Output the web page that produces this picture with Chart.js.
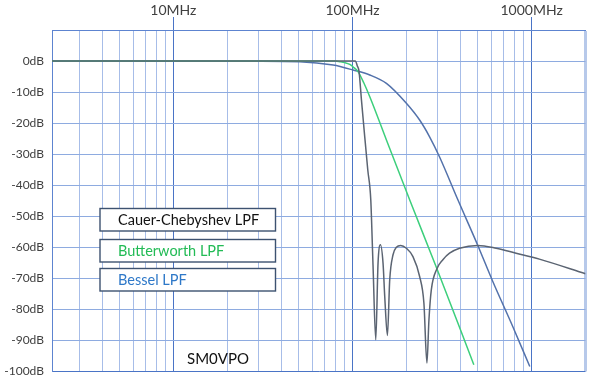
<!DOCTYPE html>
<html>
<head>
<meta charset="utf-8">
<script src="https://cdn.jsdelivr.net/npm/chart.js@4/dist/chart.umd.min.js"></script>
<style>
html,body{margin:0;padding:0;background:#fff;}
#wrap{width:591px;height:378px;position:relative;}
</style>
</head>
<body>
<div id="wrap"><canvas id="c" width="591" height="378"></canvas></div>
<script>
// ---- data ----
const seriesNames = ['Cauer-Chebyshev LPF', 'Butterworth LPF', 'Bessel LPF'];

const cauerFreqMHz = [2.1, 20, 60, 100, 103.9, 106.3, 108.8, 112.2, 117.1, 121.7, 126.5, 130.2, 134.9, 138.9, 143.2, 148.1, 151.4, 156.7, 161.4, 168.4, 175.9, 185.8, 199.9, 217.6, 237.1, 250.5, 260.4, 267.2, 275.5, 296.1, 319.7, 348.3, 396.1, 500.9, 634.3, 819.6, 1105, 2000];
const cauerDb      = [0, 0, 0, 0, 0, -1.5, -3.4, -12.5, -24.5, -35, -44.7, -65.7, -89.8, -65.1, -59.2, -65.1, -75.9, -88.4, -70.5, -62.4, -60.0, -59.4, -60.3, -63.0, -69.4, -78.0, -97.3, -83.4, -73.7, -66.9, -64.0, -61.9, -60.3, -59.4, -60.3, -61.9, -63.8, -68.5];

const butterFreqMHz = [2.1, 50, 80, 85, 90.6, 96.6, 101.7, 107.4, 115.6, 124.9, 154.7, 208.5, 296.1, 475.9];
const butterDb      = [0, 0, 0, -0.2, -0.5, -1.1, -2.1, -3.4, -7.0, -11.5, -25.4, -44.7, -66.9, -97.8];

const besselFreqMHz = [2.1, 30, 50.9, 78, 100.8, 124.9, 154.7, 199.9, 237.1, 269.5, 306.4, 387.6, 500.9, 607.3, 784.8, 977.2];
const besselDb      = [0, -0.05, -0.2, -1.3, -2.9, -4.5, -7.2, -13.6, -19.0, -24.4, -30.9, -44.7, -59.4, -71.0, -85.5, -98.4];

const xMajorTicks = [10, 100, 1000];
const xMinorGrid  = [3, 4, 5, 6, 7, 8, 9, 20, 30, 40, 50, 60, 70, 80, 90, 200, 300, 400, 500, 600, 700, 800, 900];
const xEdgeTick   = 2000;
const yTicks      = [-100, -90, -80, -70, -60, -50, -40, -30, -20, -10, 0, 10];
const footnote    = 'SM0VPO';

// ---- styling ----
const FONT = 'Lato, "Open Sans", sans-serif';
const lineColors = ['#5b6472', '#3dcf7c', '#5372ab'];
const legendTextColors = ['#111111', '#22bb55', '#2e78c8'];

function pts(fx, fy) { return fx.map((f, i) => ({x: f, y: fy[i]})); }

const allXTicks = [...xMinorGrid, ...xMajorTicks, xEdgeTick].sort((a, b) => a - b);

const boxPlugin = {
  id: 'boxes',
  afterDraw(chart) {
    const ctx = chart.ctx;
    const tops = [208.5, 239.5, 268.5];
    ctx.save();
    chart.data.datasets.forEach((ds, i) => {
      ctx.fillStyle = '#ffffff';
      ctx.fillRect(100, tops[i], 175.5, 22.5);
      ctx.lineWidth = 1.4;
      ctx.strokeStyle = '#3d5270';
      ctx.strokeRect(100, tops[i], 175.5, 22.5);
      ctx.fillStyle = legendTextColors[i];
      ctx.font = '14.5px ' + FONT;
      ctx.textBaseline = 'middle';
      ctx.textAlign = 'left';
      ctx.fillText(ds.label, 118, tops[i] + 11.5);
    });
    ctx.fillStyle = '#111111';
    ctx.font = '15px ' + FONT;
    ctx.textBaseline = 'middle';
    ctx.textAlign = 'left';
    ctx.fillText(footnote, 187, 359.5);
    ctx.restore();
  }
};

new Chart(document.getElementById('c'), {
  type: 'line',
  data: {
    datasets: [
      {label: seriesNames[0], data: pts(cauerFreqMHz, cauerDb), borderColor: lineColors[0]},
      {label: seriesNames[1], data: pts(butterFreqMHz, butterDb), borderColor: lineColors[1]},
      {label: seriesNames[2], data: pts(besselFreqMHz, besselDb), borderColor: lineColors[2]}
    ]
  },
  options: {
    responsive: false,
    animation: false,
    events: [],
    layout: {padding: {left: 0, right: 5.5, top: 0, bottom: 6.5}},
    elements: {
      point: {radius: 0},
      line: {borderWidth: 1.5, cubicInterpolationMode: 'monotone', fill: false}
    },
    plugins: {legend: {display: false}, tooltip: {enabled: false}, title: {display: false}},
    scales: {
      x: {
        type: 'logarithmic',
        position: 'top',
        min: 2.1,
        max: 2000,
        afterBuildTicks: (s) => { s.ticks = allXTicks.map(v => ({value: v})); },
        afterFit: (s) => { s.height = 30; s.paddingLeft = 0; s.paddingRight = 0; },
        ticks: {
          autoSkip: false, maxRotation: 0, padding: -2,
          color: '#404040',
          font: {family: FONT, size: 14},
          callback: (v) => xMajorTicks.includes(v) ? v + 'MHz' : ''
        },
        grid: {
          drawTicks: true,
          tickLength: 13,
          color: (c) => {
            const v = c.tick && c.tick.value;
            if (xMajorTicks.includes(v)) return '#4a74c6';
            if (v === xEdgeTick) return '#b7c9ea';
            return '#a7bde8';
          },
          lineWidth: (c) => (c.tick && c.tick.value === xEdgeTick) ? 3 : 1,
          tickColor: (c) => xMajorTicks.includes(c.tick && c.tick.value) ? '#4a74c6' : 'rgba(0,0,0,0)'
        },
        border: {display: true, color: '#5d84d0', width: 1}
      },
      y: {
        type: 'linear',
        min: -100,
        max: 10,
        afterBuildTicks: (s) => { s.ticks = yTicks.map(v => ({value: v})); },
        afterFit: (s) => { s.width = 52; s.paddingTop = 0; s.paddingBottom = 0; },
        ticks: {
          padding: 8,
          color: '#404040',
          font: {family: FONT, size: 12},
          callback: (v) => v === 10 ? '' : v + 'dB'
        },
        grid: {
          drawTicks: false,
          color: (c) => (c.tick && c.tick.value === -100) ? '#4a74c6' : '#8eabe0',
          lineWidth: 1
        },
        border: {display: true, color: '#5d84d0', width: 1}
      }
    }
  },
  plugins: [boxPlugin]
});
</script>
</body>
</html>
